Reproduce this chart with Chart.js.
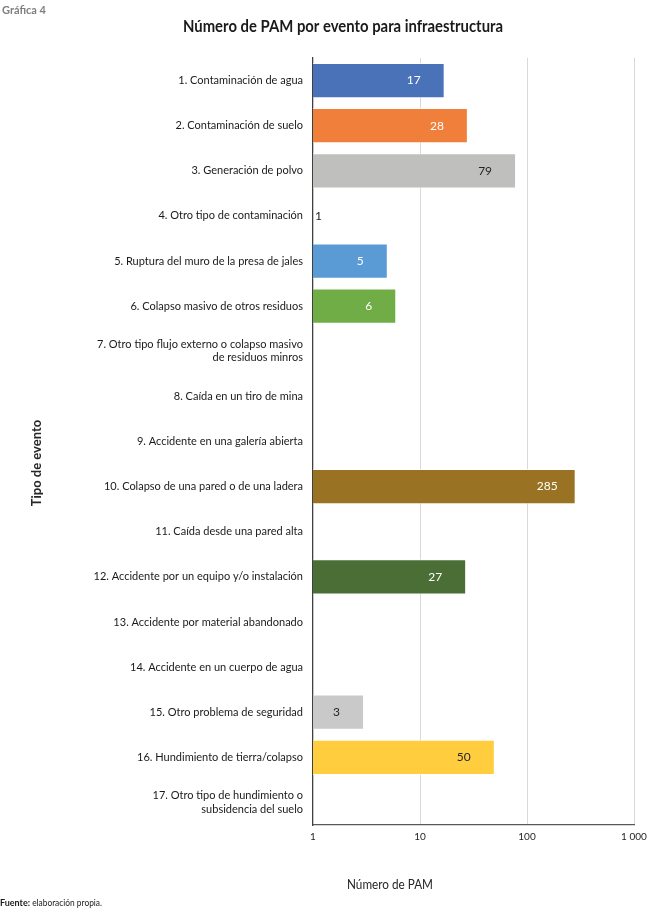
<!DOCTYPE html>
<html>
<head>
<meta charset="utf-8">
<script src="https://cdn.jsdelivr.net/npm/chart.js@4/dist/chart.umd.min.js"></script>
<style>
  html, body { margin: 0; padding: 0; background: #ffffff; }
  #wrap { width: 650px; height: 909px; position: relative; }
</style>
</head>
<body>
<div id="wrap"><canvas id="c" width="650" height="909"></canvas></div>
<script>
const categories = [
  "1. Contaminación de agua",
  "2. Contaminación de suelo",
  "3. Generación de polvo",
  "4. Otro tipo de contaminación",
  "5. Ruptura del muro de la presa de jales",
  "6. Colapso masivo de otros residuos",
  ["7. Otro tipo flujo externo o colapso masivo", "de residuos minros"],
  "8. Caída en un tiro de mina",
  "9. Accidente en una galería abierta",
  "10. Colapso de una pared o de una ladera",
  "11. Caída desde una pared alta",
  "12. Accidente por un equipo y/o instalación",
  "13. Accidente por material abandonado",
  "14. Accidente en un cuerpo de agua",
  "15. Otro problema de seguridad",
  "16. Hundimiento de tierra/colapso",
  ["17. Otro tipo de hundimiento o", "subsidencia del suelo"]
];
const values = [17, 28, 79, 1, 5, 6, null, null, null, 285, null, 27, null, null, 3, 50, null];
const barColors = ["#4A72B8", "#EF7F3A", "#BFBFBE", "#A5A5A5", "#5B9BD5", "#70AD47", "#264478", "#9E480E", "#636363", "#997323", "#255E91", "#4A6E35", "#698ED0", "#F1975A", "#C9C9C9", "#FFCD3E", "#7CAFDD"];
const labelColors = ["#ffffff", "#ffffff", "#262626", "#262626", "#ffffff", "#ffffff", "#ffffff", "#ffffff", "#ffffff", "#ffffff", "#ffffff", "#ffffff", "#ffffff", "#ffffff", "#262626", "#262626", "#ffffff"];
const xTicks = [1, 10, 100, 1000];
const xTickLabels = ["1", "10", "100", "1 000"];
const chartTitle = "Número de PAM por evento para infraestructura";
const xTitle = "Número de PAM";
const yTitle = "Tipo de evento";
const header = "Gráfica 4";
const sourceBold = "Fuente:";
const sourceText = " elaboración propia.";

const FONT = "Lato, 'Liberation Sans', sans-serif";

const textPlugin = {
  id: 'texts',
  afterDraw(chart) {
    const ctx = chart.ctx;
    ctx.save();
    ctx.fillStyle = '#7f7f7f';
    ctx.font = "bold 11px " + FONT;
    ctx.textAlign = 'left';
    ctx.textBaseline = 'middle';
    ctx.fillText(header, 2, 10, 52);
    ctx.fillStyle = '#1a1a1a';
    ctx.font = "bold 17px " + FONT;
    ctx.textAlign = 'center';
    ctx.fillText(chartTitle, 343, 27, 320);
    ctx.font = "13px " + FONT;
    ctx.fillStyle = '#262626';
    ctx.fillText(xTitle, 390, 885, 86);
    ctx.save();
    ctx.translate(37, 463);
    ctx.rotate(-Math.PI / 2);
    ctx.font = "bold 13px " + FONT;
    ctx.fillText(yTitle, 0, 0, 90);
    ctx.restore();
    ctx.textAlign = 'left';
    ctx.fillStyle = '#1a1a1a';
    ctx.font = "bold 9px " + FONT;
    ctx.fillText(sourceBold, 0, 903, 30);
    const w = Math.min(ctx.measureText(sourceBold).width, 30);
    ctx.font = "9px " + FONT;
    ctx.fillText(sourceText, w, 903, 72);
    ctx.restore();
  }
};

const labelPlugin = {
  id: 'barLabels',
  afterDatasetsDraw(chart) {
    const ctx = chart.ctx;
    const meta = chart.getDatasetMeta(0);
    ctx.save();
    ctx.font = "12px " + FONT;
    ctx.textBaseline = 'middle';
    meta.data.forEach((bar, i) => {
      const v = values[i];
      if (v === null || v === undefined) return;
      if (v === 1) {
        ctx.fillStyle = '#262626';
        ctx.textAlign = 'left';
        ctx.fillText(String(v), bar.base + 2, bar.y);
      } else {
        ctx.fillStyle = labelColors[i];
        ctx.textAlign = 'right';
        const off = v >= 100 ? 18 : (v >= 10 ? 24 : 24);
        ctx.fillText(String(v), bar.x - off, bar.y);
      }
    });
    ctx.restore();
  }
};

new Chart(document.getElementById('c'), {
  type: 'bar',
  data: {
    labels: categories,
    datasets: [{
      data: values,
      backgroundColor: barColors,
      borderColor: 'rgba(255,255,255,0.7)',
      borderWidth: 1,
      borderSkipped: 'start',
      barPercentage: 0.78,
      categoryPercentage: 1
    }]
  },
  options: {
    indexAxis: 'y',
    responsive: false,
    animation: false,
    devicePixelRatio: 1,
    layout: { padding: { top: 58, right: 16, bottom: 0, left: 0 } },
    plugins: {
      legend: { display: false },
      title: { display: false },
      tooltip: { enabled: false }
    },
    scales: {
      x: {
        type: 'logarithmic',
        min: 1,
        max: 1000,
        afterBuildTicks(scale) {
          scale.ticks = xTicks.map(v => ({ value: v }));
        },
        afterFit(scale) {
          scale.height = 84;
          scale.paddingLeft = 0;
          scale.paddingRight = 0;
        },
        ticks: {
          color: '#262626',
          font: { family: FONT, size: 10 },
          padding: 6,
          maxRotation: 0,
          autoSkip: false,
          callback: (v) => {
            const idx = xTicks.indexOf(v);
            return idx >= 0 ? xTickLabels[idx] : null;
          }
        },
        grid: {
          drawTicks: false,
          color: (c) => (c.tick && c.tick.value === 1) ? 'rgba(0,0,0,0)' : '#d9d9d9',
          lineWidth: 1
        },
        border: { display: true, color: '#595959', width: 1.3 }
      },
      y: {
        afterFit(scale) { scale.width = 313; },
        ticks: {
          color: '#1a1a1a',
          font: { family: FONT, size: 11 },
          padding: 10,
          autoSkip: false
        },
        grid: { display: false, drawTicks: false },
        border: { display: true, color: '#404040', width: 1.3 }
      }
    }
  },
  plugins: [labelPlugin, textPlugin]
});
</script>
</body>
</html>
